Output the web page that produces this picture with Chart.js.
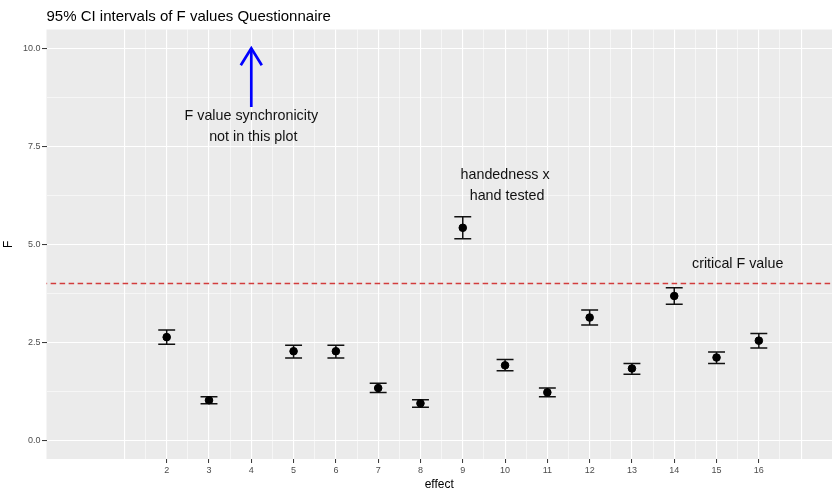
<!DOCTYPE html>
<html>
<head>
<meta charset="utf-8">
<script src="https://cdn.jsdelivr.net/npm/chart.js@4"></script>
<style>
  html, body { margin: 0; padding: 0; background: #fff; }
  #wrap { width: 832px; height: 489px; }
</style>
</head>
<body>
<div id="wrap"><canvas id="fChart"></canvas></div>
<script>
// effects and their F values with 95% CI
const effects = [2, 3, 5, 6, 7, 8, 9, 10, 11, 12, 13, 14, 15, 16];
const fValues = [2.63, 1.02, 2.27, 2.27, 1.33, 0.94, 5.42, 1.91, 1.22, 3.13, 1.83, 3.68, 2.11, 2.54];
const ciLower = [2.45, 0.93, 2.10, 2.10, 1.22, 0.84, 5.14, 1.77, 1.11, 2.94, 1.68, 3.47, 1.96, 2.35];
const ciUpper = [2.81, 1.11, 2.42, 2.42, 1.45, 1.03, 5.70, 2.06, 1.33, 3.32, 1.96, 3.89, 2.25, 2.72];
const criticalF = 4;

const xTickLabels = [2, 3, 4, 5, 6, 7, 8, 9, 10, 11, 12, 13, 14, 15, 16];
const yTickLabels = [0, 2.5, 5, 7.5, 10];

const noteText = [["F value synchronicity", " not in this plot"], ["handedness x", " hand tested"], ["critical F value"]];
const noteX = [4, 10, 15.5];
const noteY = [8, 6.5, 4.5];
const arrowX = [4, 4];
const arrowY = [8.5, 10];

const FONT = "'Liberation Sans', Arial, Helvetica, sans-serif";

const panelBg = {
  id: 'panelBg',
  beforeDraw(chart) {
    const { ctx, chartArea: a } = chart;
    ctx.save();
    ctx.fillStyle = '#ebebeb';
    ctx.fillRect(a.left, a.top, a.right - a.left, a.bottom - a.top);
    ctx.restore();
  }
};

const errorBars = {
  id: 'errorBars',
  beforeDatasetsDraw(chart) {
    const { ctx, scales: { x, y } } = chart;
    ctx.save();
    ctx.strokeStyle = '#111';
    ctx.lineWidth = 1.5;
    effects.forEach((e, i) => {
      const px = x.getPixelForValue(e);
      const l = x.getPixelForValue(e - 0.2), r = x.getPixelForValue(e + 0.2);
      const lo = y.getPixelForValue(ciLower[i]), hi = y.getPixelForValue(ciUpper[i]);
      ctx.beginPath();
      ctx.moveTo(px, lo); ctx.lineTo(px, hi);
      ctx.moveTo(l, lo); ctx.lineTo(r, lo);
      ctx.moveTo(l, hi); ctx.lineTo(r, hi);
      ctx.stroke();
    });
    ctx.restore();
  }
};

const notes = {
  id: 'notes',
  afterDatasetsDraw(chart) {
    const { ctx, chartArea: a, scales: { x, y } } = chart;
    ctx.save();
    // arrow head
    const tx = x.getPixelForValue(arrowX[1]), ty = y.getPixelForValue(arrowY[1]);
    ctx.strokeStyle = '#0000ff';
    ctx.lineWidth = 2.7;
    ctx.beginPath();
    ctx.moveTo(tx - 10.5, ty + 17);
    ctx.lineTo(tx, ty);
    ctx.lineTo(tx + 10.5, ty + 17);
    ctx.stroke();

    ctx.fillStyle = '#111';
    ctx.font = '14.3px ' + FONT;
    ctx.textAlign = 'center';
    ctx.textBaseline = 'middle';
    noteText.forEach((lines, i) => {
      const cx = x.getPixelForValue(noteX[i]);
      const cy = y.getPixelForValue(noteY[i]);
      const lh = 20.5;
      lines.forEach((t, j) => {
        ctx.fillText(t, cx, cy + (j - (lines.length - 1) / 2) * lh);
      });
    });

    // title
    ctx.fillStyle = '#000';
    ctx.font = '15px ' + FONT;
    ctx.textAlign = 'left';
    ctx.textBaseline = 'alphabetic';
    ctx.fillText('95% CI intervals of F values Questionnaire', a.left, 21);
    ctx.restore();
  }
};

new Chart(document.getElementById('fChart'), {
  type: 'scatter',
  data: {
    datasets: [
      {
        label: 'F',
        data: effects.map((e, i) => ({ x: e, y: fValues[i] })),
        backgroundColor: '#000',
        borderColor: '#000',
        pointRadius: 3.8,
        order: 0
      },
      {
        label: 'critical F',
        data: [{ x: -5, y: criticalF }, { x: 25, y: criticalF }],
        showLine: true,
        borderColor: '#d23c3c',
        borderWidth: 1.4,
        borderDash: [5.5, 3.5],
        pointRadius: 0,
        order: 1
      },
      {
        label: 'arrow',
        data: arrowX.map((v, i) => ({ x: v, y: arrowY[i] })),
        showLine: true,
        borderColor: '#0000ff',
        borderWidth: 2.7,
        pointRadius: 0,
        order: 2
      }
    ]
  },
  options: {
    responsive: true,
    maintainAspectRatio: false,
    animation: false,
    layout: { autoPadding: false, padding: { top: 29.5, left: 0, right: 0, bottom: 0 } },
    plugins: { legend: { display: false }, tooltip: { enabled: false } },
    scales: {
      x: {
        type: 'linear',
        min: -0.842,
        max: 17.73,
        afterFit(scale) {
          scale.height = 30;
          scale.paddingLeft = 0;
          scale.paddingRight = 0;
        },
        afterBuildTicks(scale) {
          const t = [];
          for (let v = 1; v <= 17; v += 0.5) t.push({ value: v });
          scale.ticks = t;
        },
        ticks: {
          autoSkip: false,
          maxRotation: 0,
          padding: 2,
          color: '#4d4d4d',
          font: { family: FONT, size: 9 },
          callback: v => xTickLabels.includes(v) ? String(v) : ''
        },
        grid: {
          color: '#ffffff',
          lineWidth: c => Number.isInteger(c.tick.value) ? 1.1 : 0.55,
          tickLength: 4,
          tickWidth: 1,
          tickColor: c => xTickLabels.includes(c.tick.value) ? '#333' : 'rgba(0,0,0,0)'
        },
        border: { display: false },
        title: { display: true, text: 'effect', color: '#000', padding: { top: 0, bottom: -2.5 }, font: { family: FONT, size: 12 } }
      },
      y: {
        type: 'linear',
        min: -0.48,
        max: 10.48,
        afterFit(scale) {
          scale.width = 46.5;
          scale.paddingTop = 0;
          scale.paddingBottom = 0;
        },
        afterBuildTicks(scale) {
          const t = [];
          for (let v = 0; v <= 10; v += 1.25) t.push({ value: v });
          scale.ticks = t;
        },
        ticks: {
          autoSkip: false,
          padding: 1.5,
          color: '#4d4d4d',
          font: { family: FONT, size: 9 },
          callback: v => yTickLabels.includes(v) ? v.toFixed(1) : ''
        },
        grid: {
          color: '#ffffff',
          lineWidth: c => yTickLabels.includes(c.tick.value) ? 1.1 : 0.55,
          tickLength: 4.5,
          tickWidth: 1,
          tickColor: c => yTickLabels.includes(c.tick.value) ? '#333' : 'rgba(0,0,0,0)'
        },
        border: { display: false },
        title: { display: true, text: 'F', color: '#000', padding: 1.5, font: { family: FONT, size: 12 } }
      }
    }
  },
  plugins: [panelBg, errorBars, notes]
});
</script>
</body>
</html>
